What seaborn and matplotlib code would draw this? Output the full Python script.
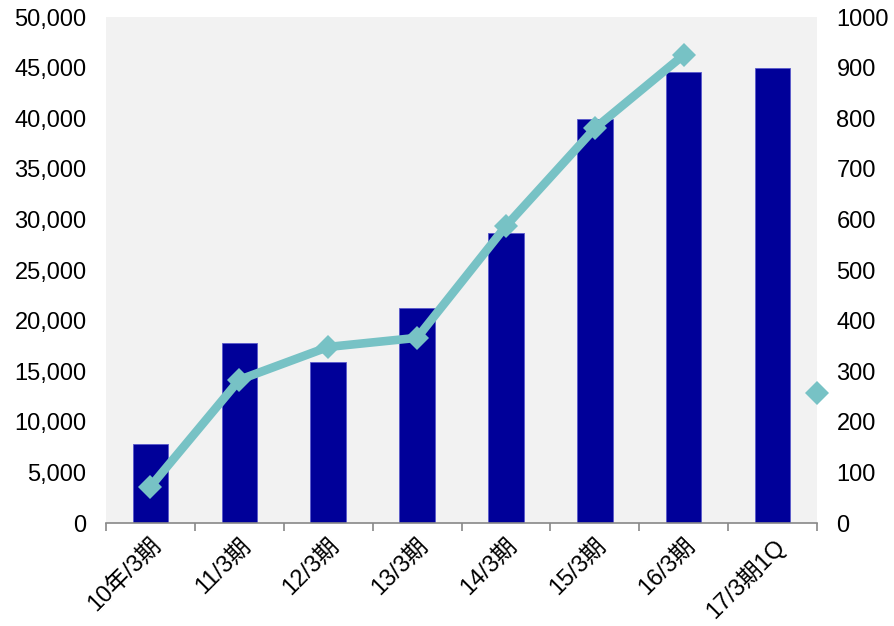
import matplotlib
matplotlib.use("Agg")
import matplotlib.pyplot as plt
import matplotlib.ticker as mticker
import numpy as np
import pandas as pd
import seaborn as sns

CATEGORIES = ["10年/3期", "11/3期", "12/3期", "13/3期", "14/3期", "15/3期", "16/3期", "17/3期1Q"]
BAR_VALUES = [7800, 17800, 15900, 21200, 28700, 39900, 44600, 45000]
LINE_VALUES = [72, 283, 348, 366, 587, 780, 925]
LONE_POINT = 256

BAR_COLOR = "#000099"
LINE_COLOR = "#77C2C5"
TEXT_COLOR = "#000000"

sns.set_theme(style="white")
plt.rcParams["font.family"] = ["Liberation Sans", "Noto Sans CJK JP", "DejaVu Sans"]

fig = plt.figure(figsize=(8.94, 6.26), dpi=100)
ax = fig.add_axes([0.1186, 0.1645, 0.7953, 0.8083])
ax.set_facecolor("#F2F2F2")

df = pd.DataFrame({"period": CATEGORIES, "value": BAR_VALUES})
sns.barplot(data=df, x="period", y="value", color=BAR_COLOR, width=0.4,
            edgecolor="#5A5ACC", linewidth=0.6, saturation=1, ax=ax)

ax.set_xlim(-0.5, len(CATEGORIES) - 0.5)
ax.set_ylim(0, 50000)
ax.yaxis.set_major_locator(mticker.MultipleLocator(5000))
ax.yaxis.set_major_formatter(mticker.FuncFormatter(lambda v, _: f"{int(v):,}"))
ax.set_xlabel("")
ax.set_ylabel("")

# tick marks sit between categories
ax.set_xticks(np.arange(len(CATEGORIES)), labels=CATEGORIES)
ax.set_xticks(np.arange(len(CATEGORIES) + 1) - 0.5, minor=True)
ax.tick_params(axis="x", which="major", length=0, pad=8, labelsize=17, labelcolor=TEXT_COLOR)
ax.tick_params(axis="x", which="minor", length=6, color="#888888", width=1.2, bottom=True)
ax.tick_params(axis="y", length=0, labelsize=17, pad=14, labelcolor=TEXT_COLOR)
for lbl in ax.get_xticklabels():
    lbl.set_rotation(45)
    lbl.set_ha("right")
    lbl.set_rotation_mode("anchor")

for side in ["top", "left", "right"]:
    ax.spines[side].set_visible(False)
ax.spines["bottom"].set_color("#888888")
ax.spines["bottom"].set_linewidth(1.2)

ax2 = ax.twinx()
sns.lineplot(x=np.arange(len(LINE_VALUES)), y=LINE_VALUES, color=LINE_COLOR,
             linewidth=6.2, marker="D", markersize=12, markeredgewidth=0, ax=ax2)
ax2.plot([len(CATEGORIES) - 0.5], [LONE_POINT], marker="D", markersize=12,
         color=LINE_COLOR, markeredgewidth=0, linestyle="none", clip_on=False)
ax2.set_ylim(0, 1000)
ax2.yaxis.set_major_locator(mticker.MultipleLocator(100))
ax2.tick_params(axis="y", length=0, labelsize=17, pad=14, labelcolor=TEXT_COLOR)
for side in ["top", "left", "right", "bottom"]:
    ax2.spines[side].set_visible(False)
ax2.set_xlim(-0.5, len(CATEGORIES) - 0.5)

fig.savefig("out.png", dpi=100)
